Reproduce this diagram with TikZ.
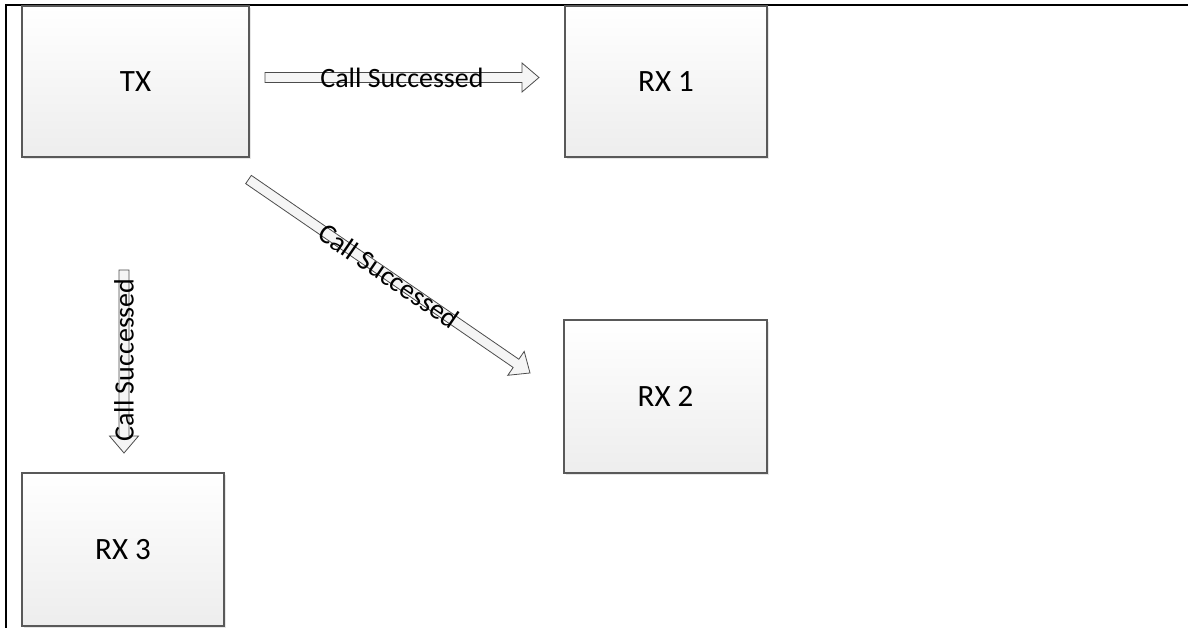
\documentclass[tikz,border=0pt]{standalone}
\usepackage{fontspec}
\setmainfont{Carlito}
\usetikzlibrary{shadows}
\tikzset{
  boxnode/.style={draw=black!65, line width=1.1pt, top color=white, bottom color=black!7,
    minimum width=#1, inner sep=0pt, font=\fontsize{31}{31}\selectfont,
    drop shadow={shadow xshift=2pt, shadow yshift=-2pt, fill=black!12, opacity=0.8}},
  arrowbody/.style={draw=black!70, line width=0.8pt, fill=black!4},
  arrowlabel/.style={inner sep=0pt, font=\fontsize{28}{28}\selectfont},
  frameline/.style={line width=2pt, black}
}
\newcommand{\myblockarrow}[3]{% start, angle, length
  \begin{scope}[shift={#1}, rotate=#2]
    \draw[arrowbody] (0,-5) -- (#3-17,-5) -- (#3-17,-14.5) -- (#3,0) -- (#3-17,14.5) -- (#3-17,5) -- (0,5) -- cycle;
  \end{scope}}
\begin{document}
\begin{tikzpicture}[x=1pt,y=1pt]
\useasboundingbox (0,0) rectangle (1188,-628);
\coordinate (fr0) at (5.5,-628);
\coordinate (fr1) at (5.5,-5);
\coordinate (fr2) at (1188,-5);
\draw[frameline] (fr0) -- (fr1) -- (fr2);

\node[boxnode=227pt, minimum height=151pt] (tx) at (135.5,-81.5) {TX};
\node[boxnode=202pt, minimum height=151pt] (rx1) at (666,-81.5) {RX 1};
\node[boxnode=203pt, minimum height=153pt] (rx2) at (665.5,-396.5) {RX 2};
\node[boxnode=202pt, minimum height=153pt] (rx3) at (123,-549.5) {RX 3};

% arrow TX -> RX1
\coordinate (a1s) at (265,-77.5);
\myblockarrow{(a1s)}{0}{274}
\node[arrowlabel] (l1) at (402,-78) {Call Successed};

% arrow TX -> RX2
\coordinate (a2s) at (248.5,-179.5);
\myblockarrow{(a2s)}{-34.5}{341.6}
\node[arrowlabel, rotate=-34.5] (l2) at (389,-276) {Call Successed};

% arrow TX -> RX3
\coordinate (a3s) at (124,-270);
\myblockarrow{(a3s)}{-90}{183}
\node[arrowlabel, rotate=90] (l3) at (124,-360) {Call Successed};
\end{tikzpicture}
\end{document}
